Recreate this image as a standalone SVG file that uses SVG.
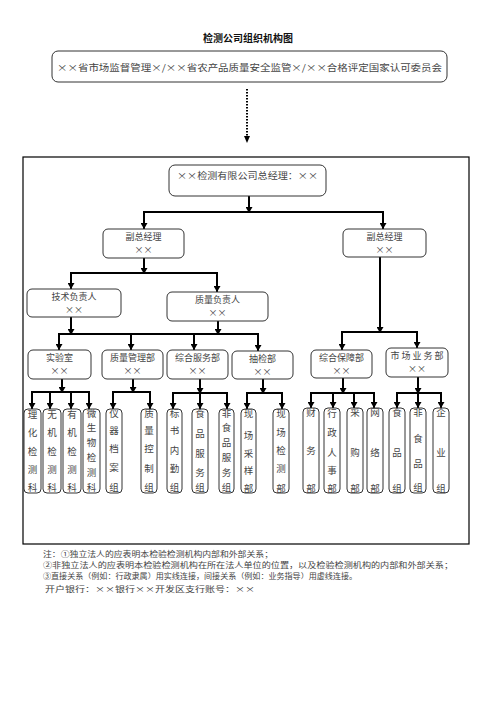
<svg xmlns="http://www.w3.org/2000/svg" width="496" height="702" viewBox="0 0 496 702">
<defs>
<marker id="ah" markerUnits="userSpaceOnUse" markerWidth="7" markerHeight="7" refX="6" refY="3.5" orient="auto">
<path d="M0,0 L6,3.5 L0,7 z" fill="#000"/>
</marker>
<style>
.t{font-family:"Noto Sans CJK SC","Liberation Serif",sans-serif;fill:#444;font-size:9px;text-anchor:middle}
.v{font-family:"Noto Sans CJK SC","Liberation Serif",sans-serif;fill:#444;font-size:9.5px;text-anchor:middle}
.n{font-family:"Noto Sans CJK SC","Liberation Serif",sans-serif;fill:#444;font-size:7.5px}
.b{fill:#fff;stroke:#333;stroke-width:1}
.c line{stroke:#000;stroke-width:2}
.c .a{marker-end:url(#ah)}
</style>
</defs>
<rect width="496" height="702" fill="#fff"/>
<text x="248" y="42" style="font-family:'Noto Sans CJK SC',sans-serif;font-weight:bold;font-size:10px;text-anchor:middle;fill:#111">检测公司组织机构图</text>

<g id="top">
<rect class="b" x="52" y="51" width="395" height="31" rx="6"/>
<text class="t" x="249.5" y="71" font-size="10.2" textLength="385" lengthAdjust="spacingAndGlyphs">××省市场监督管理×/××省农产品质量安全监管×/××合格评定国家认可委员会</text>
</g>

<g id="frame"><rect x="23" y="157" width="446" height="387" fill="none" stroke="#000" stroke-width="1.2"/></g>

<g id="connectors">
<line x1="247" y1="89" x2="247" y2="137" stroke="#000" stroke-width="2" stroke-dasharray="1.5,1.5"/>
<path d="M244,136 L250,136 L247,143 z" fill="#000"/>
<g class="c">
<line class="a" x1="249" y1="196" x2="249" y2="213"/>
<line x1="143" y1="212" x2="384" y2="212"/>
<line class="a" x1="144" y1="212" x2="144" y2="229"/>
<line class="a" x1="383" y1="212" x2="383" y2="229"/>
<line class="a" x1="144" y1="258" x2="144" y2="274"/>
<line x1="70" y1="273" x2="218" y2="273"/>
<line class="a" x1="71" y1="273" x2="71" y2="289"/>
<line class="a" x1="217" y1="273" x2="217" y2="292"/>
<line class="a" x1="71" y1="317" x2="71" y2="335"/>
<line class="a" x1="218" y1="321" x2="218" y2="335"/>
<line x1="58" y1="334" x2="259" y2="334"/>
<line class="a" x1="59" y1="334" x2="59" y2="350"/>
<line class="a" x1="131" y1="334" x2="131" y2="350"/>
<line class="a" x1="194" y1="334" x2="194" y2="350"/>
<line class="a" x1="258" y1="334" x2="258" y2="351"/>
<line class="a" x1="380" y1="257" x2="380" y2="333"/>
<line x1="341" y1="332" x2="418" y2="332"/>
<line class="a" x1="342" y1="332" x2="342" y2="350"/>
<line class="a" x1="417" y1="332" x2="417" y2="348"/>
<line class="a" x1="62" y1="379" x2="62" y2="393"/>
<line x1="31" y1="392" x2="90" y2="392"/>
<line class="a" x1="32" y1="392" x2="32" y2="409"/>
<line class="a" x1="50" y1="392" x2="50" y2="409"/>
<line class="a" x1="71" y1="392" x2="71" y2="409"/>
<line class="a" x1="89" y1="392" x2="89" y2="409"/>
<line class="a" x1="133" y1="379" x2="133" y2="393"/>
<line x1="112" y1="392" x2="151" y2="392"/>
<line class="a" x1="113" y1="392" x2="113" y2="409"/>
<line class="a" x1="150" y1="392" x2="150" y2="409"/>
<line class="a" x1="200" y1="379" x2="200" y2="394"/>
<line x1="172" y1="393" x2="228" y2="393"/>
<line class="a" x1="173" y1="393" x2="173" y2="409"/>
<line class="a" x1="200" y1="393" x2="200" y2="409"/>
<line class="a" x1="227" y1="393" x2="227" y2="409"/>
<line class="a" x1="263" y1="379" x2="263" y2="394"/>
<line x1="246" y1="393" x2="283" y2="393"/>
<line class="a" x1="247" y1="393" x2="247" y2="409"/>
<line class="a" x1="282" y1="393" x2="282" y2="409"/>
<line class="a" x1="343" y1="378" x2="343" y2="394"/>
<line x1="310" y1="393" x2="375" y2="393"/>
<line class="a" x1="311" y1="393" x2="311" y2="408"/>
<line class="a" x1="333" y1="393" x2="333" y2="408"/>
<line class="a" x1="354" y1="393" x2="354" y2="408"/>
<line class="a" x1="374" y1="393" x2="374" y2="408"/>
<line class="a" x1="418" y1="377" x2="418" y2="394"/>
<line x1="396" y1="393" x2="442" y2="393"/>
<line class="a" x1="397" y1="393" x2="397" y2="408"/>
<line class="a" x1="418" y1="393" x2="418" y2="408"/>
<line class="a" x1="441" y1="393" x2="441" y2="408"/>
</g>
</g>

<g id="gm">
<rect class="b" x="169" y="165" width="157" height="31" rx="6"/>
<text class="t" x="247.5" y="179" font-size="10" textLength="141" lengthAdjust="spacingAndGlyphs">××检测有限公司总经理：××</text>
</g>
<g id="dep1">
<rect class="b" x="103" y="229" width="81" height="29" rx="5"/>
<text class="t" x="143.5" y="240">副总经理</text><text class="t" x="143.5" y="253">××</text>
</g>
<g id="dep2">
<rect class="b" x="343" y="229" width="83" height="28" rx="5"/>
<text class="t" x="384.5" y="240">副总经理</text><text class="t" x="384.5" y="253">××</text>
</g>
<g id="tech">
<rect class="b" x="27" y="289" width="94" height="28" rx="5"/>
<text class="t" x="74" y="300">技术负责人</text><text class="t" x="74" y="313">××</text>
</g>
<g id="qual">
<rect class="b" x="167" y="292" width="101" height="29" rx="5"/>
<text class="t" x="217.5" y="303">质量负责人</text><text class="t" x="217.5" y="316">××</text>
</g>
<g id="lab">
<rect class="b" x="28" y="350" width="63" height="29" rx="5"/>
<text class="t" x="59.5" y="361" font-size="9.5">实验室</text><text class="t" x="59.5" y="374">××</text>
</g>
<g id="qm">
<rect class="b" x="102" y="350" width="61" height="29" rx="5"/>
<text class="t" x="132.5" y="361">质量管理部</text><text class="t" x="132.5" y="374">××</text>
</g>
<g id="gs">
<rect class="b" x="167" y="350" width="61" height="29" rx="5"/>
<text class="t" x="197.5" y="361">综合服务部</text><text class="t" x="197.5" y="374">××</text>
</g>
<g id="sp">
<rect class="b" x="232" y="351" width="61" height="28" rx="5"/>
<text class="t" x="262.5" y="362">抽检部</text><text class="t" x="262.5" y="375">××</text>
</g>
<g id="gb">
<rect class="b" x="311" y="350" width="61" height="28" rx="5"/>
<text class="t" x="341.5" y="361">综合保障部</text><text class="t" x="341.5" y="374">××</text>
</g>
<g id="mk">
<rect class="b" x="386" y="348" width="62" height="29" rx="5"/>
<text class="t" x="417" y="359">市 场 业 务 部</text><text class="t" x="417" y="372">××</text>
</g>

<g id="v1"><rect class="b" x="24" y="409" width="17" height="84" rx="4"/>
<text class="v"><tspan x="32.5" y="417.5">理</tspan><tspan x="32.5" y="436">化</tspan><tspan x="32.5" y="454.5">检</tspan><tspan x="32.5" y="472.5">测</tspan><tspan x="32.5" y="491">科</tspan></text></g>
<g id="v2"><rect class="b" x="43" y="409" width="18" height="84" rx="4"/>
<text class="v"><tspan x="52" y="417.5">无</tspan><tspan x="52" y="436">机</tspan><tspan x="52" y="454.5">检</tspan><tspan x="52" y="472.5">测</tspan><tspan x="52" y="491">科</tspan></text></g>
<g id="v3"><rect class="b" x="63" y="409" width="18" height="84" rx="4"/>
<text class="v"><tspan x="72" y="417.5">有</tspan><tspan x="72" y="436">机</tspan><tspan x="72" y="454.5">检</tspan><tspan x="72" y="472.5">测</tspan><tspan x="72" y="491">科</tspan></text></g>
<g id="v4"><rect class="b" x="83" y="409" width="17" height="84" rx="4"/>
<text class="v"><tspan x="91.5" y="416.5">微</tspan><tspan x="91.5" y="431">生</tspan><tspan x="91.5" y="446">物</tspan><tspan x="91.5" y="461">检</tspan><tspan x="91.5" y="476">测</tspan><tspan x="91.5" y="491">科</tspan></text></g>
<g id="v5"><rect class="b" x="106" y="409" width="16" height="84" rx="4"/>
<text class="v"><tspan x="114" y="416.5">仪</tspan><tspan x="114" y="433.5">器</tspan><tspan x="114" y="451.5">档</tspan><tspan x="114" y="470.5">案</tspan><tspan x="114" y="491">组</tspan></text></g>
<g id="v6"><rect class="b" x="141" y="409" width="16" height="84" rx="4"/>
<text class="v"><tspan x="149" y="416.5">质</tspan><tspan x="149" y="433.5">量</tspan><tspan x="149" y="451.5">控</tspan><tspan x="149" y="471.5">制</tspan><tspan x="149" y="491">组</tspan></text></g>
<g id="v7"><rect class="b" x="167" y="409" width="15" height="84" rx="4"/>
<text class="v"><tspan x="174.5" y="416.5">标</tspan><tspan x="174.5" y="433.5">书</tspan><tspan x="174.5" y="453.5">内</tspan><tspan x="174.5" y="471.5">勤</tspan><tspan x="174.5" y="491">组</tspan></text></g>
<g id="v8"><rect class="b" x="192" y="409" width="16" height="84" rx="4"/>
<text class="v"><tspan x="200" y="416.5">食</tspan><tspan x="200" y="436.5">品</tspan><tspan x="200" y="456.5">服</tspan><tspan x="200" y="475.5">务</tspan><tspan x="200" y="491">组</tspan></text></g>
<g id="v9"><rect class="b" x="219" y="409" width="15" height="84" rx="4"/>
<text class="v"><tspan x="226.5" y="416.5">非</tspan><tspan x="226.5" y="431">食</tspan><tspan x="226.5" y="446">品</tspan><tspan x="226.5" y="461">服</tspan><tspan x="226.5" y="476">务</tspan><tspan x="226.5" y="491">组</tspan></text></g>
<g id="v10"><rect class="b" x="241" y="409" width="15" height="84" rx="4"/>
<text class="v"><tspan x="248.5" y="416.5">现</tspan><tspan x="248.5" y="438.5">场</tspan><tspan x="248.5" y="456.5">采</tspan><tspan x="248.5" y="473.5">样</tspan><tspan x="248.5" y="492">部</tspan></text></g>
<g id="v11"><rect class="b" x="273" y="409" width="16" height="84" rx="4"/>
<text class="v"><tspan x="281" y="416.5">现</tspan><tspan x="281" y="435.5">场</tspan><tspan x="281" y="453.5">检</tspan><tspan x="281" y="471.5">测</tspan><tspan x="281" y="492">部</tspan></text></g>
<g id="v12"><rect class="b" x="303" y="408" width="16" height="85" rx="4"/>
<text class="v"><tspan x="311" y="415.5">财</tspan><tspan x="311" y="453.5">务</tspan><tspan x="311" y="492">部</tspan></text></g>
<g id="v13"><rect class="b" x="324" y="408" width="16" height="85" rx="4"/>
<text class="v"><tspan x="332" y="416.5">行</tspan><tspan x="332" y="435.5">政</tspan><tspan x="332" y="455.5">人</tspan><tspan x="332" y="473.5">事</tspan><tspan x="332" y="492">部</tspan></text></g>
<g id="v14"><rect class="b" x="347" y="408" width="16" height="85" rx="4"/>
<text class="v"><tspan x="355" y="415.5">采</tspan><tspan x="355" y="455.5">购</tspan><tspan x="355" y="492">部</tspan></text></g>
<g id="v15"><rect class="b" x="367" y="408" width="16" height="85" rx="4"/>
<text class="v"><tspan x="375" y="415.5">网</tspan><tspan x="375" y="455.5">络</tspan><tspan x="375" y="492">部</tspan></text></g>
<g id="v16"><rect class="b" x="389" y="408" width="16" height="85" rx="4"/>
<text class="v"><tspan x="397" y="415.5">食</tspan><tspan x="397" y="455.5">品</tspan><tspan x="397" y="492">组</tspan></text></g>
<g id="v17"><rect class="b" x="410" y="408" width="16" height="85" rx="4"/>
<text class="v"><tspan x="418" y="415.5">非</tspan><tspan x="418" y="441.5">食</tspan><tspan x="418" y="466.5">品</tspan><tspan x="418" y="490.5">组</tspan></text></g>
<g id="v18"><rect class="b" x="433" y="408" width="16" height="85" rx="4"/>
<text class="v"><tspan x="441" y="415.5">企</tspan><tspan x="441" y="455.5">业</tspan><tspan x="441" y="492">组</tspan></text></g>

<g id="notes">
<text class="n" x="43" y="557" textLength="230" lengthAdjust="spacingAndGlyphs">注：①独立法人的应表明本检验检测机构内部和外部关系；</text>
<text class="n" x="43" y="568" textLength="410" lengthAdjust="spacingAndGlyphs">②非独立法人的应表明本检验检测机构在所在法人单位的位置，以及检验检测机构的内部和外部关系；</text>
<text class="n" x="43" y="579" textLength="314" lengthAdjust="spacingAndGlyphs">③直接关系（例如：行政隶属）用实线连接，间接关系（例如：业务指导）用虚线连接。</text>
<text class="n" x="45" y="592" font-size="9" textLength="210" lengthAdjust="spacingAndGlyphs">开户银行：××银行××开发区支行账号：××</text>
</g>
</svg>
